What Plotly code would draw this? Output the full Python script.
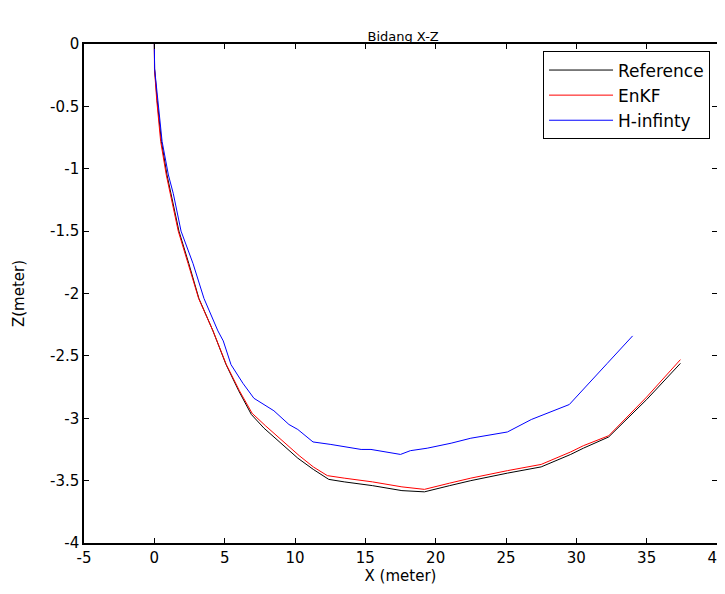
import plotly.graph_objects as go

# Reference trajectory
ref_x = [0, 0.02, 0.2, 0.5, 0.9, 1.2, 1.75, 2.45, 3.17, 4.17, 5.1, 6.0, 6.9, 7.8, 9.0, 10.2, 11.3, 12.4,
         13.5, 15.5, 17.6, 19.2, 21.0, 22.5, 25.1, 27.5, 29.6, 30.5, 32.3, 35.0, 37.4]
ref_z = [0, -0.2, -0.45, -0.78, -1.05, -1.2, -1.5, -1.76, -2.04, -2.3, -2.57, -2.78, -2.97, -3.08, -3.2,
         -3.32, -3.41, -3.49, -3.51, -3.54, -3.58, -3.59, -3.54, -3.5, -3.44, -3.39, -3.29, -3.24, -3.15,
         -2.85, -2.56]

# EnKF estimate
enkf_x = [0, 0.01, 0.17, 0.45, 0.85, 1.15, 1.7, 2.4, 3.15, 4.17, 5.12, 6.05, 6.95, 7.9, 9.1, 10.3, 11.3, 12.3,
          13.5, 15.5, 17.6, 19.2, 21.0, 22.5, 25.1, 27.5, 29.6, 30.5, 32.3, 35.0, 37.4]
enkf_z = [0, -0.2, -0.45, -0.78, -1.05, -1.2, -1.5, -1.76, -2.04, -2.3, -2.57, -2.78, -2.96, -3.06, -3.18,
          -3.3, -3.39, -3.46, -3.48, -3.51, -3.55, -3.57, -3.52, -3.48, -3.42, -3.37, -3.27, -3.22, -3.14,
          -2.83, -2.53]

# H-infinity estimate
hinf_x = [0, 0.02, 0.25, 0.55, 1.0, 1.35, 1.9, 2.75, 3.53, 4.52, 4.9, 5.45, 6.3, 7.08, 8.5, 9.57, 10.2, 11.28,
          12.55, 13.5, 14.7, 15.4, 17.5, 18.2, 19.4, 21.1, 22.5, 25.1, 26.8, 27.7, 29.5, 32.2, 34.0]
hinf_z = [0, -0.2, -0.45, -0.78, -1.05, -1.2, -1.5, -1.76, -2.04, -2.3, -2.38, -2.57, -2.72, -2.84, -2.94,
          -3.05, -3.09, -3.19, -3.21, -3.23, -3.25, -3.25, -3.29, -3.26, -3.24, -3.2, -3.16, -3.11, -3.01,
          -2.97, -2.89, -2.56, -2.34]

x_tickvals = [-5, 0, 5, 10, 15, 20, 25, 30, 35, 40]
x_ticktext = ["-5", "0", "5", "10", "15", "20", "25", "30", "35", "40"]
y_tickvals = [-4, -3.5, -3, -2.5, -2, -1.5, -1, -0.5, 0]
y_ticktext = ["-4", "-3.5", "-3", "-2.5", "-2", "-1.5", "-1", "-0.5", "0"]
x_range = [-5, 40]
y_range = [-4, 0]

FONT = "DejaVu Sans"

fig = go.Figure()
fig.add_trace(go.Scatter(x=ref_x, y=ref_z, mode="lines", name="Reference",
                         line=dict(color="black", width=1)))
fig.add_trace(go.Scatter(x=enkf_x, y=enkf_z, mode="lines", name="EnKF",
                         line=dict(color="red", width=1)))
fig.add_trace(go.Scatter(x=hinf_x, y=hinf_z, mode="lines", name="H-infinty",
                         line=dict(color="blue", width=1)))

axis_common = dict(showline=True, linecolor="black", linewidth=1.5, mirror="allticks",
                   ticks="inside", ticklen=5, tickwidth=1, tickcolor="black",
                   showgrid=False, zeroline=False, automargin=False,
                   tickfont=dict(family=FONT, size=15, color="black"))

fig.update_layout(
    width=725, height=594,
    margin=dict(l=76, r=16, t=36, b=59),
    paper_bgcolor="white", plot_bgcolor="white",
    title=dict(text="Bidang X-Z", x=0.545, xanchor="center", y=0.945, yanchor="bottom",
               font=dict(family=FONT, size=13, color="black")),
    xaxis=dict(range=x_range, tickvals=x_tickvals, ticktext=x_ticktext,
               title=dict(text="X (meter)", font=dict(family=FONT, size=15, color="black"), standoff=4),
               **axis_common),
    yaxis=dict(range=y_range, tickvals=y_tickvals, ticktext=y_ticktext,
               title=dict(text="Z(meter)", font=dict(family=FONT, size=15, color="black"), standoff=22),
               **axis_common),
    legend=dict(x=0.989, xanchor="right", y=0.985, yanchor="top",
                bordercolor="black", borderwidth=1, bgcolor="white",
                font=dict(family=FONT, size=17, color="black"),
                itemwidth=64, tracegroupgap=0),
    showlegend=True,
)

fig.write_html("out.html")
